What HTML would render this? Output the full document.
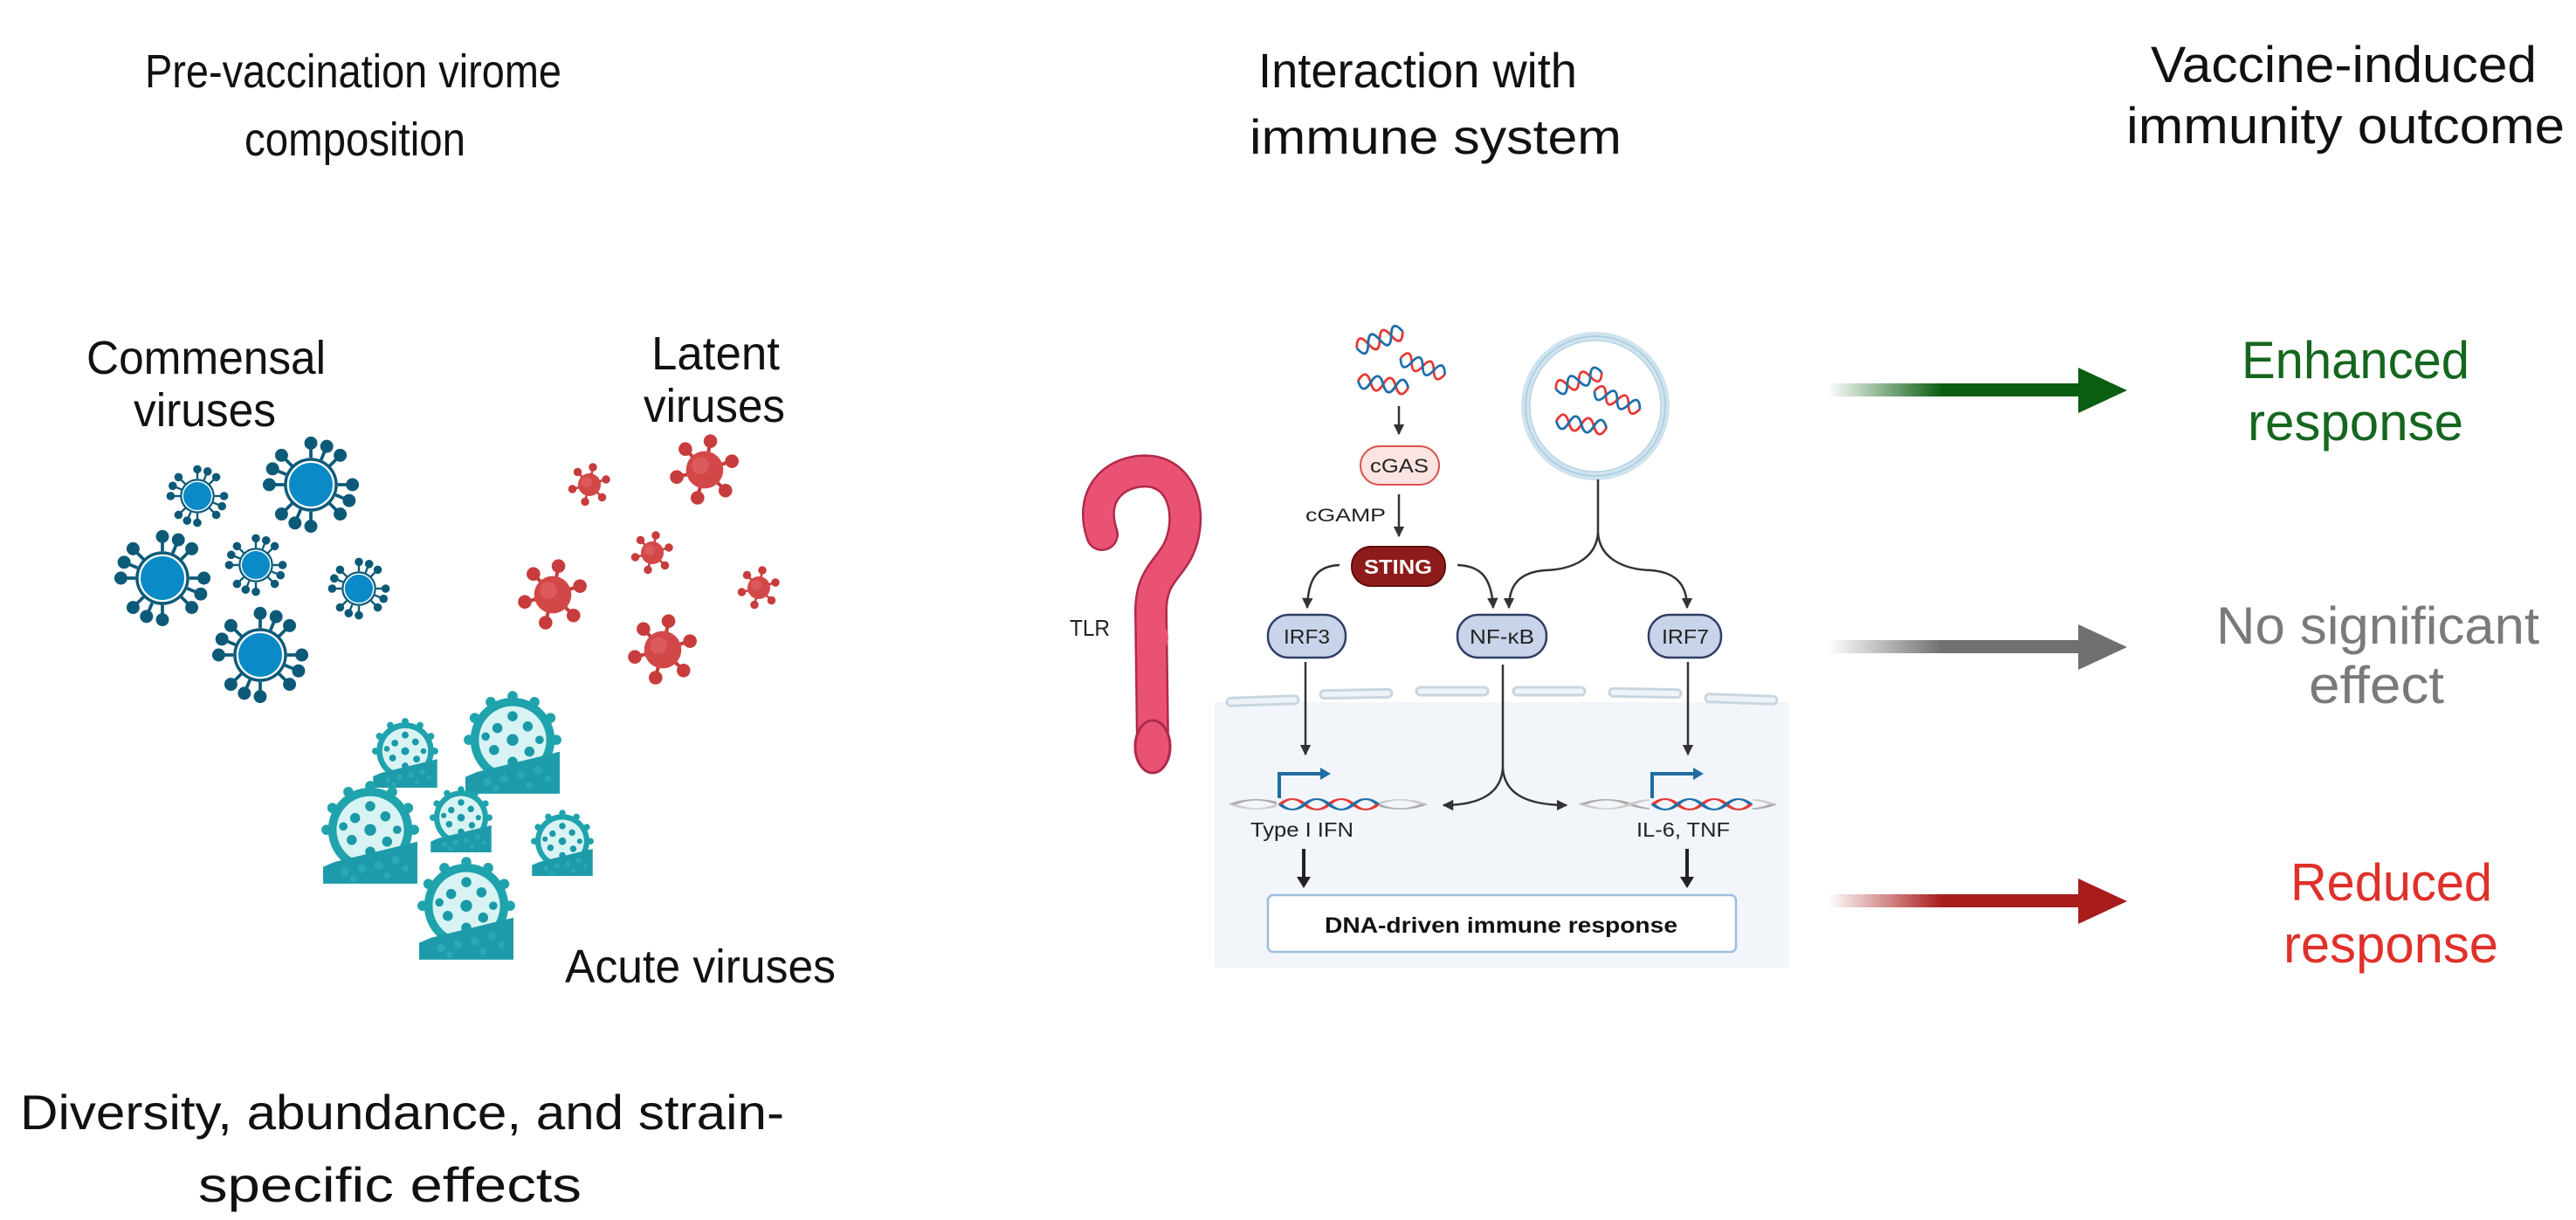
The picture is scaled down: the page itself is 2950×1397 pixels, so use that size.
<!DOCTYPE html>
<html><head><meta charset="utf-8"><style>
html,body{margin:0;padding:0;background:#fff;}
svg{display:block;}
text{font-family:"Liberation Sans",sans-serif;}
</style></head><body>
<svg width="2950" height="1397" viewBox="0 0 2950 1397" xmlns="http://www.w3.org/2000/svg">
<defs>
<symbol id="bv" viewBox="-60 -60 120 120" overflow="visible">
  <g stroke="#0d5a78" stroke-width="4" fill="#0d5a78">
    <line x1="0" y1="-33" x2="0" y2="-48"/><line x1="0" y1="33" x2="0" y2="48"/>
    <line x1="-33" y1="0" x2="-48" y2="0"/><line x1="33" y1="0" x2="48" y2="0"/>
    <line x1="23" y1="23" x2="34" y2="34"/><line x1="-23" y1="23" x2="-34" y2="34"/>
    <line x1="23" y1="-23" x2="34" y2="-34"/><line x1="-23" y1="-23" x2="-34" y2="-34"/>
    <line x1="12.6" y1="-30.5" x2="18.4" y2="-44.3"/><line x1="-12.6" y1="30.5" x2="-18.4" y2="44.3"/>
    <line x1="30.5" y1="12.6" x2="44.3" y2="18.4"/><line x1="-30.5" y1="-12.6" x2="-44.3" y2="-18.4"/>
    <circle cx="0" cy="-51" r="6"/><circle cx="0" cy="51" r="6"/><circle cx="-51" cy="0" r="6"/><circle cx="51" cy="0" r="6"/>
    <circle cx="36" cy="36" r="6"/><circle cx="-36" cy="36" r="6"/><circle cx="36" cy="-36" r="6"/><circle cx="-36" cy="-36" r="6"/>
    <circle cx="19.5" cy="-47" r="6"/><circle cx="-19.5" cy="47" r="6"/><circle cx="47" cy="19.5" r="6"/><circle cx="-47" cy="-19.5" r="6"/>
  </g>
  <circle r="33" fill="#0d5a78"/>
  <circle r="28" fill="#0a8ac6" stroke="#ffffff" stroke-width="2.5"/>
</symbol>
<symbol id="rv" viewBox="-50 -50 100 100" overflow="visible">
  <g stroke="#c73c3c" stroke-width="5" fill="#c73c3c">
    <line x1="0" y1="0" x2="8" y2="-39"/><line x1="0" y1="0" x2="37" y2="-12"/>
    <line x1="0" y1="0" x2="28" y2="28"/><line x1="0" y1="0" x2="-10" y2="38"/>
    <line x1="0" y1="0" x2="-38" y2="10"/><line x1="0" y1="0" x2="-26" y2="-28"/>
    <circle cx="8" cy="-40" r="7"/><circle cx="38" cy="-12" r="7"/><circle cx="29" cy="29" r="7"/>
    <circle cx="-10" cy="39" r="7"/><circle cx="-39" cy="10" r="7"/><circle cx="-27" cy="-29" r="7"/>
  </g>
  <circle r="26" fill="#d24848"/>
  <circle cx="-6" cy="-6" r="12" fill="#dd5a5a"/>
</symbol>
<symbol id="av" viewBox="-56 -58 112 116" overflow="visible">
  <circle cx="0" cy="-6" r="50" fill="#1fa3ad"/>
  <circle cx="0" cy="-6" r="40" fill="#d8f3f3"/>
  <g fill="#1a9aa8">
    <circle cx="0" cy="-6" r="7"/><circle cx="-18" cy="-20" r="6"/><circle cx="18" cy="-22" r="6"/>
    <circle cx="-22" cy="6" r="6"/><circle cx="20" cy="8" r="6"/><circle cx="0" cy="-34" r="6"/>
    <circle cx="-32" cy="-10" r="5"/><circle cx="32" cy="-6" r="5"/><circle cx="0" cy="20" r="6"/>
  </g>
  <g fill="#1fa3ad">
    <circle cx="0" cy="-58" r="6"/><circle cx="-26" cy="-51" r="6"/><circle cx="26" cy="-51" r="6"/>
    <circle cx="-45" cy="-32" r="6"/><circle cx="45" cy="-32" r="6"/><circle cx="-52" cy="-6" r="6"/><circle cx="52" cy="-6" r="6"/>
  </g>
  <polygon points="-56,58 -56,38 -42,32 56,8 56,58" fill="#1e9bab"/>
  <g fill="#2aaebb" opacity="0.8">
    <circle cx="-30" cy="44" r="5"/><circle cx="-10" cy="40" r="5"/><circle cx="10" cy="36" r="5"/><circle cx="30" cy="30" r="5"/>
    <circle cx="-20" cy="52" r="4"/><circle cx="20" cy="48" r="4"/><circle cx="42" cy="40" r="4"/>
  </g>
</symbol>
<symbol id="dna" viewBox="0 0 60 24" preserveAspectRatio="none" overflow="visible">
  <path d="M0 12 C5 0,10 0,15 12 S25 24,30 12 S40 0,45 12 S55 24,60 12" fill="none" stroke="#e53935" stroke-width="3"/>
  <path d="M0 12 C5 24,10 24,15 12 S25 0,30 12 S40 24,45 12 S55 0,60 12" fill="none" stroke="#1e6fa8" stroke-width="3"/>
</symbol>
<symbol id="gdna" viewBox="0 0 60 24" preserveAspectRatio="none" overflow="visible">
  <path d="M0 12 C5 0,10 0,15 12 S25 24,30 12 S40 0,45 12 S55 24,60 12" fill="none" stroke="#aaa" stroke-width="2.5"/>
  <path d="M0 12 C5 24,10 24,15 12 S25 0,30 12 S40 24,45 12 S55 0,60 12" fill="none" stroke="#ccc" stroke-width="2.5"/>
</symbol>
<marker id="ah" viewBox="0 0 10 10" refX="9" refY="5" markerWidth="5" markerHeight="5" orient="auto">
  <path d="M0 0 L10 5 L0 10 z" fill="#333"/>
</marker>
<linearGradient id="gg" x1="0" x2="1"><stop offset="0" stop-color="#0a5e12" stop-opacity="0"/><stop offset="0.45" stop-color="#0a5e12"/></linearGradient>
<linearGradient id="gy" x1="0" x2="1"><stop offset="0" stop-color="#707070" stop-opacity="0"/><stop offset="0.45" stop-color="#707070"/></linearGradient>
<linearGradient id="gr" x1="0" x2="1"><stop offset="0" stop-color="#a81c1c" stop-opacity="0"/><stop offset="0.45" stop-color="#a81c1c"/></linearGradient>
</defs>

<!-- Titles -->
<g fill="#111">
<text x="166" y="100" font-size="54" textLength="477" lengthAdjust="spacingAndGlyphs">Pre-vaccination virome</text>
<text x="280" y="178" font-size="54" textLength="253" lengthAdjust="spacingAndGlyphs">composition</text>
<text x="1441" y="100" font-size="56" textLength="365" lengthAdjust="spacingAndGlyphs">Interaction with</text>
<text x="1431" y="176" font-size="56" textLength="426" lengthAdjust="spacingAndGlyphs">immune system</text>
<text x="2463" y="94" font-size="58" textLength="442" lengthAdjust="spacingAndGlyphs">Vaccine-induced</text>
<text x="2435" y="164" font-size="58" textLength="502" lengthAdjust="spacingAndGlyphs">immunity outcome</text>
</g>

<!-- Left labels -->
<g font-size="54" fill="#111">
<text x="99" y="428" textLength="274" lengthAdjust="spacingAndGlyphs">Commensal</text>
<text x="153" y="488" textLength="163" lengthAdjust="spacingAndGlyphs">viruses</text>
<text x="746" y="423" textLength="147" lengthAdjust="spacingAndGlyphs">Latent</text>
<text x="737" y="483" textLength="162" lengthAdjust="spacingAndGlyphs">viruses</text>
<text x="647" y="1125" textLength="310" lengthAdjust="spacingAndGlyphs">Acute viruses</text>
<text x="23" y="1293" font-size="56" textLength="875" lengthAdjust="spacingAndGlyphs">Diversity, abundance, and strain-</text>
<text x="227" y="1376" font-size="56" textLength="439" lengthAdjust="spacingAndGlyphs">specific effects</text>
</g>

<!-- blue viruses -->
<use href="#bv" x="190" y="532" width="72" height="72"/>
<use href="#bv" x="300" y="499" width="112" height="112"/>
<use href="#bv" x="130" y="606" width="112" height="112"/>
<use href="#bv" x="257" y="611" width="72" height="72"/>
<use href="#bv" x="375" y="638" width="72" height="72"/>
<use href="#bv" x="242" y="694" width="112" height="112"/>
<!-- red viruses -->
<use href="#rv" x="650" y="530" width="50" height="50"/>
<use href="#rv" x="766" y="497" width="82" height="82"/>
<use href="#rv" x="722" y="608" width="50" height="50"/>
<use href="#rv" x="592" y="640" width="82" height="82"/>
<use href="#rv" x="844" y="648" width="50" height="50"/>
<use href="#rv" x="718" y="703" width="82" height="82"/>
<!-- acute viruses -->
<use href="#av" x="427" y="826" width="74" height="76"/>
<use href="#av" x="533" y="797" width="108" height="112"/>
<use href="#av" x="370" y="900" width="108" height="112"/>
<use href="#av" x="493" y="904" width="70" height="72"/>
<use href="#av" x="609" y="931" width="70" height="72"/>
<use href="#av" x="480" y="987" width="108" height="112"/>

<!-- cell background -->
<rect x="1391" y="804" width="658" height="304" fill="#f2f6fa"/>
<g fill="#eef3f7" stroke="#c8d6e0" stroke-width="3">
<rect x="1405" y="798" width="82" height="9" rx="4.5" transform="rotate(-2 1446 802)"/>
<rect x="1512" y="790" width="82" height="9" rx="4.5" transform="rotate(-1 1553 794)"/>
<rect x="1622" y="787" width="82" height="9" rx="4.5"/>
<rect x="1733" y="787" width="82" height="9" rx="4.5"/>
<rect x="1843" y="789" width="82" height="9" rx="4.5" transform="rotate(1 1884 793)"/>
<rect x="1953" y="796" width="82" height="9" rx="4.5" transform="rotate(2 1994 800)"/>
</g>

<!-- TLR -->
<path d="M1262 612 C1245 560,1285 535,1320 540 C1360 548,1365 600,1348 632 C1335 655,1318 662,1318 700 L1320 850" fill="none" stroke="#b02a4a" stroke-width="38" stroke-linecap="round" stroke-linejoin="round"/>
<path d="M1262 612 C1245 560,1285 535,1320 540 C1360 548,1365 600,1348 632 C1335 655,1318 662,1318 700 L1320 850" fill="none" stroke="#ea5273" stroke-width="33" stroke-linecap="round" stroke-linejoin="round"/>
<ellipse cx="1320" cy="855" rx="20" ry="30" fill="#ea5273" stroke="#b02a4a" stroke-width="3"/>
<ellipse cx="1322" cy="730" rx="16" ry="18" fill="#ea5273"/>
<text x="1225" y="728" font-size="26" fill="#222" textLength="46" lengthAdjust="spacingAndGlyphs">TLR</text>

<!-- DNA fragments top -->
<use href="#dna" x="1552" y="377" width="56" height="24" transform="rotate(-20 1580 389)"/>
<use href="#dna" x="1602" y="408" width="54" height="22" transform="rotate(20 1628 420)"/>
<use href="#dna" x="1555" y="429" width="58" height="22" transform="rotate(8 1584 440)"/>
<!-- vesicle -->
<circle cx="1827" cy="465" r="80" fill="#fff" stroke="#cfe3ee" stroke-width="10"/>
<circle cx="1827" cy="465" r="80" fill="none" stroke="#a9cbe0" stroke-width="1.5"/>
<circle cx="1827" cy="465" r="75" fill="none" stroke="#a9cbe0" stroke-width="1"/>
<use href="#dna" x="1780" y="425" width="56" height="22" transform="rotate(-20 1808 436)"/>
<use href="#dna" x="1824" y="447" width="56" height="22" transform="rotate(22 1852 458)"/>
<use href="#dna" x="1782" y="475" width="58" height="22" transform="rotate(8 1811 486)"/>

<!-- connectors -->
<g fill="none" stroke="#333" stroke-width="2.5">
<line x1="1602" y1="465" x2="1602" y2="497" marker-end="url(#ah)"/>
<line x1="1602" y1="566" x2="1602" y2="614" marker-end="url(#ah)"/>
<path d="M1534 647 C1510 648,1498 660,1497 696" marker-end="url(#ah)"/>
<path d="M1669 647 C1695 648,1708 660,1710 696" marker-end="url(#ah)"/>
<path d="M1830 549 L1830 610 C1828 640,1800 652,1770 653 C1740 655,1728 670,1728 696" marker-end="url(#ah)"/>
<path d="M1830 610 C1832 640,1860 652,1890 653 C1920 655,1932 670,1932 696" marker-end="url(#ah)"/>
<line x1="1495" y1="758" x2="1495" y2="864" marker-end="url(#ah)"/>
<line x1="1933" y1="758" x2="1933" y2="864" marker-end="url(#ah)"/>
<path d="M1721 761 L1721 880 C1719 905,1700 922,1653 922" marker-end="url(#ah)"/>
<path d="M1721 880 C1723 905,1742 922,1794 922" marker-end="url(#ah)"/>
</g>
<g stroke="#222" stroke-width="4">
<line x1="1493" y1="972" x2="1493" y2="1012"/><polygon points="1485,1004 1501,1004 1493,1017" fill="#222" stroke="none"/>
<line x1="1932" y1="972" x2="1932" y2="1012"/><polygon points="1924,1004 1940,1004 1932,1017" fill="#222" stroke="none"/>
</g>

<!-- pills -->
<rect x="1558" y="511" width="90" height="44" rx="22" fill="#fde4e2" stroke="#d9534f" stroke-width="2"/>
<text x="1569" y="541" font-size="22" fill="#222" textLength="67" lengthAdjust="spacingAndGlyphs">cGAS</text>
<text x="1495" y="597" font-size="21" fill="#222" textLength="92" lengthAdjust="spacingAndGlyphs">cGAMP</text>
<rect x="1548" y="626" width="107" height="45" rx="22" fill="#8e1b1b" stroke="#5e0e0e" stroke-width="2"/>
<text x="1562" y="657" font-size="23" font-weight="bold" fill="#fff" textLength="78" lengthAdjust="spacingAndGlyphs">STING</text>
<g fill="#c9d4ea" stroke="#2f3e66" stroke-width="2.5">
<rect x="1452" y="704" width="89" height="49" rx="24"/>
<rect x="1669" y="704" width="102" height="49" rx="24"/>
<rect x="1888" y="704" width="83" height="49" rx="24"/>
</g>
<g font-size="23" fill="#222">
<text x="1470" y="737" textLength="53" lengthAdjust="spacingAndGlyphs">IRF3</text>
<text x="1683" y="737" textLength="74" lengthAdjust="spacingAndGlyphs">NF-κB</text>
<text x="1903" y="737" textLength="54" lengthAdjust="spacingAndGlyphs">IRF7</text>
</g>

<!-- genes -->
<g>
<use href="#gdna" x="1411" y="914" width="220" height="14"/>
<rect x="1462" y="910" width="118" height="22" fill="#f2f6fa"/>
<use href="#dna" x="1466" y="913" width="112" height="16"/>
<path d="M1465 914 L1465 886 L1515 886" fill="none" stroke="#1f6ca0" stroke-width="4"/>
<polygon points="1512,879 1524,886 1512,893" fill="#1f6ca0"/>
<use href="#gdna" x="1812" y="914" width="219" height="14"/>
<rect x="1889" y="910" width="118" height="22" fill="#f2f6fa"/>
<use href="#dna" x="1893" y="913" width="112" height="16"/>
<path d="M1892 914 L1892 886 L1942 886" fill="none" stroke="#1f6ca0" stroke-width="4"/>
<polygon points="1939,879 1951,886 1939,893" fill="#1f6ca0"/>
</g>
<text x="1432" y="958" font-size="23" fill="#222" textLength="118" lengthAdjust="spacingAndGlyphs">Type I IFN</text>
<text x="1874" y="958" font-size="23" fill="#222" textLength="107" lengthAdjust="spacingAndGlyphs">IL-6, TNF</text>
<rect x="1452" y="1025" width="536" height="65" rx="6" fill="#fff" stroke="#9dbde2" stroke-width="2.5"/>
<text x="1517" y="1068" font-size="25" font-weight="bold" fill="#111" textLength="404" lengthAdjust="spacingAndGlyphs">DNA-driven immune response</text>

<!-- outcome arrows -->
<rect x="2093" y="439" width="292" height="15" fill="url(#gg)"/>
<polygon points="2380,421 2436,447 2380,473" fill="#0a5e12"/>
<rect x="2093" y="733" width="292" height="15" fill="url(#gy)"/>
<polygon points="2380,715 2436,741 2380,767" fill="#707070"/>
<rect x="2093" y="1024" width="292" height="15" fill="url(#gr)"/>
<polygon points="2380,1006 2436,1032 2380,1058" fill="#a81c1c"/>

<g font-size="60">
<text x="2567" y="433" fill="#15661f" textLength="261" lengthAdjust="spacingAndGlyphs">Enhanced</text>
<text x="2574" y="504" fill="#15661f" textLength="247" lengthAdjust="spacingAndGlyphs">response</text>
<text x="2538" y="737" fill="#7a7a7a" textLength="370" lengthAdjust="spacingAndGlyphs">No significant</text>
<text x="2644" y="805" fill="#7a7a7a" textLength="155" lengthAdjust="spacingAndGlyphs">effect</text>
<text x="2623" y="1031" fill="#e0302a" textLength="231" lengthAdjust="spacingAndGlyphs">Reduced</text>
<text x="2615" y="1102" fill="#e0302a" textLength="246" lengthAdjust="spacingAndGlyphs">response</text>
</g>
</svg>
</body></html>
